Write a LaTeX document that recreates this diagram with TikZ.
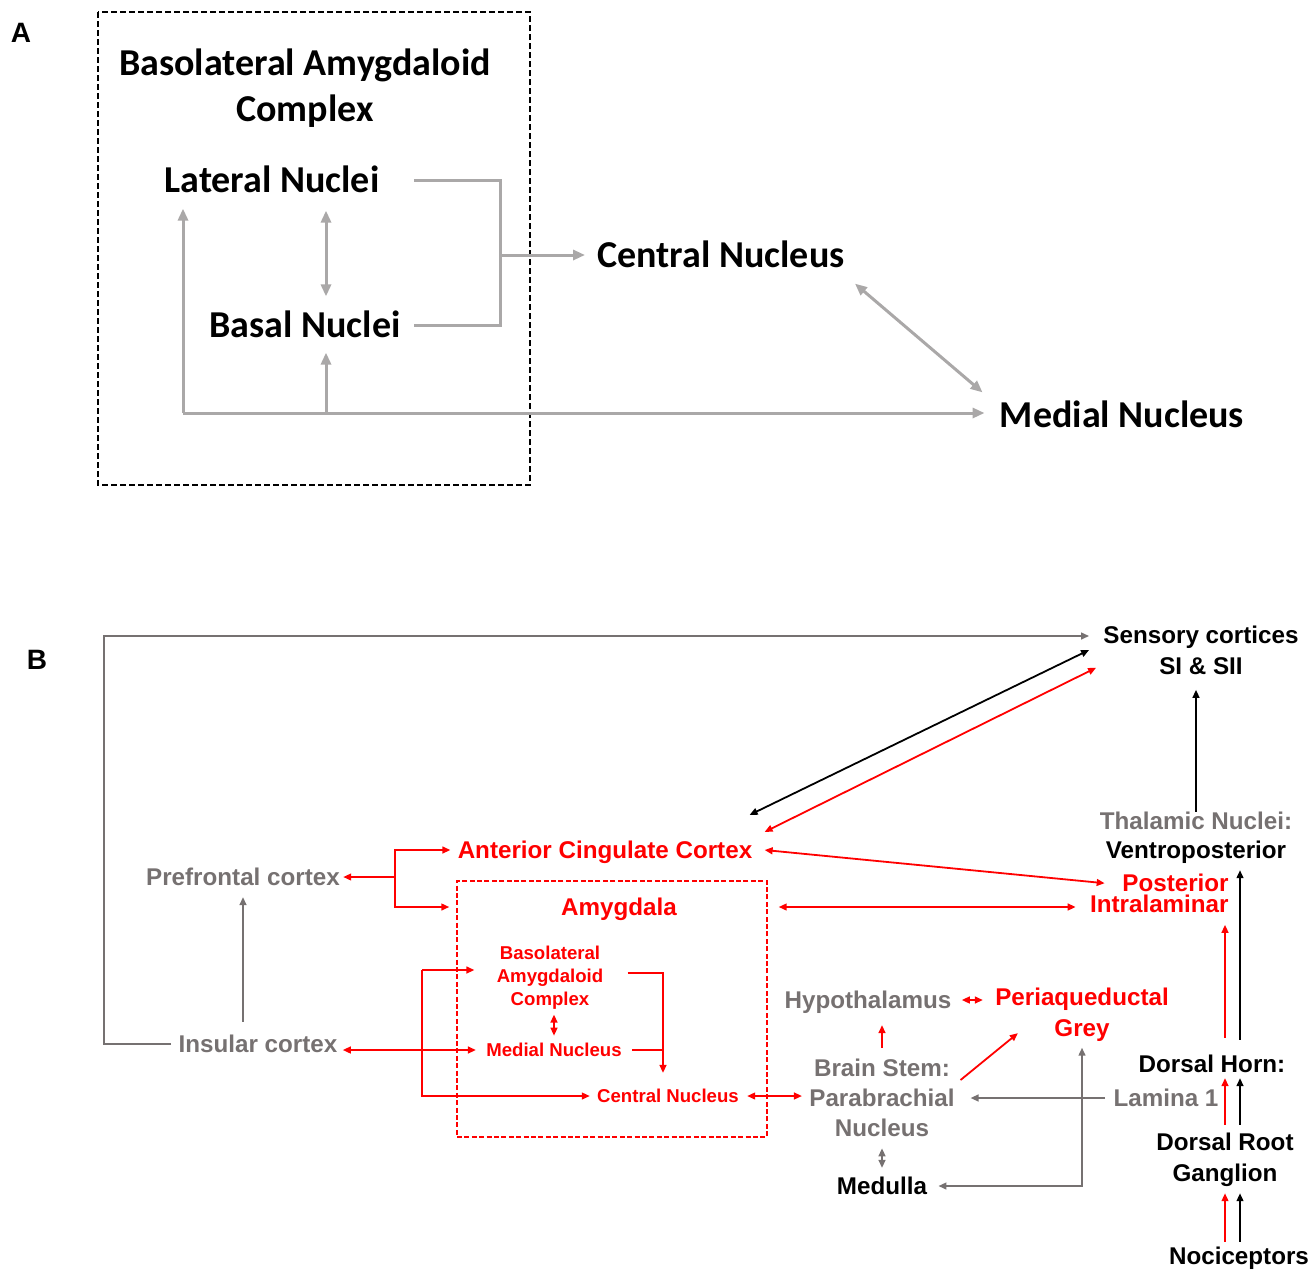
\documentclass[tikz,border=0pt]{standalone}
\usepackage{fontspec}
\newfontfamily\calibri{Carlito}
\newfontfamily\arial{Liberation Sans}
\usepackage{tikz}
\usetikzlibrary{arrows.meta,calc}

\definecolor{greyA}{RGB}{170,168,168}
\definecolor{greyB}{RGB}{118,113,113}
\definecolor{redB}{RGB}{255,0,0}

\tikzset{
	panel/.style={font={\arial\bfseries\fontsize{14}{17}\selectfont}, inner sep=0pt},
	txtA/.style={font={\calibri\bfseries\fontsize{19}{23}\selectfont}, inner sep=0pt, align=center},
	txtB/.style={font={\arial\bfseries\fontsize{12.1}{15.5}\selectfont}, inner sep=0pt, align=center},
	txtS/.style={font={\arial\bfseries\fontsize{9.3}{11.5}\selectfont}, inner sep=0pt, align=center},
	capline/.style={text height=#1, text depth=0pt},
	ga/.style={draw=greyA, line width=1.5pt},
	gb/.style={draw=greyB, line width=0.9pt},
	rb/.style={draw=redB, line width=0.9pt},
	kb/.style={draw=black, line width=0.9pt},
	redbox/.style={draw=redB, line width=0.7pt, dash pattern=on 2.5pt off 1.2pt, inner sep=0pt}
}

\begin{document}
\begin{tikzpicture}[x=0.5pt, y=-0.5pt]
	\useasboundingbox (0,0) rectangle (1312,1270);

	% Panel A: basolateral complex
	\begin{scope}[>={Triangle[length=6pt,width=5pt]}]
	\node[panel] (pA) at (21,33) {A};
	\draw[black, line width=0.75pt, dash pattern=on 3pt off 1.5pt] (98,12) rectangle (530,485);
	\node[txtA] (blc) at (305,88) {Basolateral Amygdaloid\\Complex};
	\node[txtA, capline=12.2pt] (lat) at (272,180) {Lateral Nuclei};
	\node[txtA, capline=12.2pt] (bas) at (305,325) {Basal Nuclei};
	\node[txtA, capline=12.2pt] (cen) at (721,255) {Central Nucleus};
	\node[txtA, capline=12.2pt] (med) at (1122,415) {Medial Nucleus};

	\coordinate (jA) at (500,255);
	\coordinate (cA) at (183,413);
	\coordinate (bx) at ([xshift=10.5pt]bas.south);
	\draw[ga] ([xshift=17pt]lat.east) -| (jA) |- ([xshift=6.5pt]bas.east);
	\draw[ga,->] (jA) -- ([xshift=-6pt]cen.west);
	\draw[ga,<->] ([xshift=27pt,yshift=-9pt]lat.south) -- ([xshift=10.5pt,yshift=8pt]bas.north);
	\draw[ga,->,shorten >=8pt] (cA) -- (cA |- lat.south);
	\draw[ga,->,shorten >=7.5pt] (cA) -- (cA -| med.west);
	\draw[ga,->,shorten >=7.5pt] (bx |- cA) -- (bx);
	\draw[ga,<->] ([xshift=5pt,yshift=-8pt]cen.south east) -- ([xshift=-8.5pt,yshift=5pt]med.north west);
	\end{scope}

	% Panel B: pain pathways
	\begin{scope}[>={Triangle[length=4pt,width=3.4pt]}]
	\node[panel] (pB) at (37,660) {B};
	\node[txtB] (sen) at (1201,650) {Sensory cortices\\SI \& SII};
	\node[txtB, font={\arial\bfseries\fontsize{12.1}{14.5}\selectfont}] (tha) at (1196,838) {\textcolor{greyB}{Thalamic Nuclei:}\\Ventroposterior};
	\node[txtB, text=redB, align=right, anchor=east, font={\arial\bfseries\fontsize{12.1}{10.5}\selectfont}] (pst) at (1229,893) {Posterior\\Intralaminar};
	\node[txtB, text=redB, capline=8.7pt] (acc) at (605,850) {Anterior Cingulate Cortex};
	\node[txtB, text=greyB, capline=8.7pt] (pfc) at (243,877) {Prefrontal cortex};
	\node[redbox, minimum width=155pt, minimum height=128pt] (abox) at (612,1009) {};
	\node[txtB, text=redB, capline=8.7pt] (amy) at (619,907) {Amygdala};
	\node[txtS, text=redB] (blc2) at (550,978) {Basolateral\\Amygdaloid\\Complex};
	\node[txtS, text=redB, capline=6.7pt] (mdn) at (554,1050) {Medial Nucleus};
	\node[txtS, text=redB, capline=6.7pt] (cnn) at (668,1096) {Central Nucleus};
	\node[txtB, text=greyB, capline=8.7pt] (ins) at (258,1044) {Insular cortex};
	\node[txtB, text=greyB, capline=8.7pt] (hyp) at (868,1000) {Hypothalamus};
	\node[txtB, text=redB] (pag) at (1082,1015) {Periaqueductal\\Grey};
	\node[txtB, text=greyB, font={\arial\bfseries\fontsize{12.1}{15}\selectfont}] (bst) at (882,1098) {Brain Stem:\\Parabrachial\\Nucleus};
	\node[txtB, capline=8.7pt] (mdl) at (882,1186) {Medulla};
	\node[txtB, capline=8.7pt] (dhn) at (1212,1064) {Dorsal Horn:};
	\node[txtB, text=greyB, capline=8.7pt] (lam) at (1166,1098) {Lamina 1};
	\node[txtB] (drg) at (1225,1160) {Dorsal Root\\Ganglion};
	\node[txtB, capline=8.7pt] (noc) at (1239,1256) {Nociceptors};

	% cortex connections
	\coordinate (cB) at (104,636);
	\draw[gb,->,shorten >=7pt] ([xshift=-3.5pt]ins.west) -| (cB) -- (cB -| sen.west);
	\draw[kb,<->] ([xshift=-1.5pt,yshift=13pt]acc.north east) -- ([xshift=-7pt]sen.west);
	\draw[rb,<->] ([xshift=6pt,yshift=4.5pt]acc.north east) -- ([xshift=-3.5pt,yshift=3.5pt]sen.south west);
	\draw[kb,->,shorten >=7.5pt] (tha.north) -- (tha.north |- sen.south);
	\draw[rb,<->] ([xshift=6pt]acc.east) -- ([xshift=7.5pt,yshift=-5pt]pst.north west);
	\draw[rb,<->,shorten <=5.5pt,shorten >=7pt] (abox.east |- amy) -- (pst.west |- amy);

	\coordinate (jP) at (395,877);
	\draw[rb,->,shorten >=1.5pt] (jP) -- (pfc.east);
	\draw[rb,->,shorten >=3.5pt] (jP) |- (acc.west);
	\draw[rb,->,shorten >=3.5pt] (jP) |- (abox.west |- amy);
	\draw[gb,->,shorten <=6.5pt,shorten >=5.5pt] (pfc.south |- ins.north) -- (pfc.south);
	\draw[rb,<->,shorten <=2.5pt,shorten >=5pt] (ins.east |- mdn.west) -- (mdn.west);

	% inside the amygdala
	\coordinate (jL) at (422,970);
	\coordinate (jR) at ([xshift=-2.5pt]cnn.north);
	\draw[rb,->,shorten >=11pt] (jL) -- (jL -| blc2.west);
	\draw[rb,->,shorten >=3.5pt] (jL) |- (cnn.west);
	\draw[rb,->,shorten >=8pt] ([xshift=12pt,yshift=2.5pt]blc2.east) -| (jR);
	\draw[rb] ([xshift=5pt]mdn.east) -- (mdn.east -| jR);
	\draw[rb,<->,shorten <=2.25pt,shorten >=3.6pt] (blc2.south -| mdn.north) -- (mdn.north);

	% brain stem
	\draw[rb,<->,shorten <=4pt,shorten >=3.5pt] (cnn.east) -- (cnn.east -| bst.west);
	\draw[rb,<->,shorten <=5pt,shorten >=6pt] (hyp.east) -- (hyp.east -| pag.west);
	\draw[rb,->,shorten <=5.5pt,shorten >=8pt] (bst.north) -- (bst.north |- hyp.south);
	\draw[rb,->] ([xshift=2.75pt,yshift=9pt]bst.east) -- ([xshift=11.5pt,yshift=4.5pt]pag.south west);
	\draw[gb,->,shorten <=4pt,shorten >=7.75pt] (lam.west) -- (lam.west -| bst.east);
	\draw[gb,<->,shorten <=2.75pt,shorten >=5.5pt] (pag.south) |- (mdl.east);
	\draw[gb,<->,shorten <=5.5pt,shorten >=4.5pt] (bst.south) -- (bst.south |- mdl.north);

	% spinal inputs
	\coordinate (xr) at (1225,0);
	\coordinate (xk) at (1240,0);
	\draw[rb,->,shorten <=8.5pt,shorten >=6pt] (dhn.north -| xr) -- (pst.south -| xr);
	\draw[kb,->,shorten <=7.5pt,shorten >=3pt] (dhn.north -| xk) -- (tha.south -| xk);
	\draw[rb,->,shorten <=4pt,shorten >=2.5pt] (drg.north -| xr) -- (dhn.south -| xr);
	\draw[kb,->,shorten <=4pt,shorten >=2.5pt] (drg.north -| xk) -- (dhn.south -| xk);
	\draw[rb,->,shorten <=2.5pt,shorten >=3pt] (noc.north -| xr) -- (drg.south -| xr);
	\draw[kb,->,shorten <=2.5pt,shorten >=3pt] (noc.north -| xk) -- (drg.south -| xk);
	\end{scope}
\end{tikzpicture}
\end{document}
